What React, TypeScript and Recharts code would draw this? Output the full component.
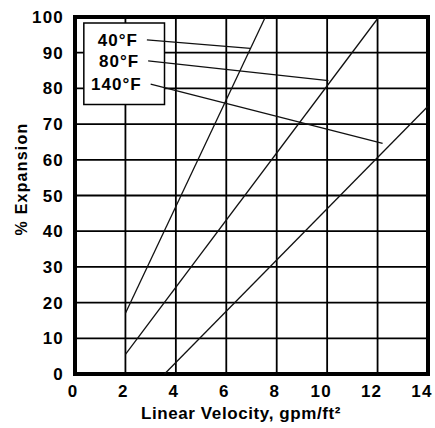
import { LineChart, Line, XAxis, YAxis, CartesianGrid, ReferenceArea, LabelList } from "recharts";

const xTicks = [0, 2, 4, 6, 8, 10, 12, 14];
const yTicks = [0, 10, 20, 30, 40, 50, 60, 70, 80, 90, 100];

// expansion curves
const curve40 = [
  { x: 2, y: 17 },
  { x: 7.55, y: 100 },
];
const curve80 = [
  { x: 2, y: 5.5 },
  { x: 12.05, y: 100 },
];
const curve140 = [
  { x: 3.55, y: 0 },
  { x: 14, y: 75 },
];

// leader lines from the legend labels to their curves
const leader40 = [
  { x: 2.85, y: 93.6, name: "40°F" },
  { x: 6.95, y: 91.2 },
];
const leader80 = [
  { x: 2.9, y: 87.7, name: "80°F" },
  { x: 10.05, y: 82.2 },
];
const leader140 = [
  { x: 3.0, y: 81.2, name: "140°F" },
  { x: 12.2, y: 64.6 },
];

const font = "'Liberation Sans', Arial, sans-serif";

const XTick = (props: any) => {
  const { x, y, payload } = props;
  const shift = String(payload.value).length > 1 ? 6 : 2;
  return (
    <text x={x - shift} y={y + 23} textAnchor="middle" fontFamily={font} fontWeight="bold" fontSize={17} letterSpacing={1.2} fill="#000">
      {payload.value}
    </text>
  );
};

const YTick = (props: any) => {
  const { x, y, payload } = props;
  return (
    <text x={x - 11} y={y + 6} textAnchor="end" fontFamily={font} fontWeight="bold" fontSize={17} letterSpacing={1.2} fill="#000">
      {payload.value}
    </text>
  );
};

const LegendText = (props: any) => {
  const { x, y, value, index } = props;
  if (index !== 0 || !value) return null;
  return (
    <text x={x - 9} y={y + 6} textAnchor="end" fontFamily={font} fontWeight="bold" fontSize={17} letterSpacing={1} fill="#000">
      {value}
    </text>
  );
};

export default function App() {
  const lineStyle = { stroke: "#111", strokeWidth: 1.3, dot: false, isAnimationActive: false };
  return (
    <div style={{ position: "absolute", left: 0, top: 0, background: "#fff" }}>
      <LineChart width={435} height={428} margin={{ top: 17, right: 7, left: 0, bottom: 0 }}>
        <CartesianGrid stroke="#000" strokeWidth={1.8} />
        <XAxis
          dataKey="x"
          type="number"
          domain={[0, 14]}
          ticks={xTicks}
          interval={0}
          height={54}
          axisLine={false}
          tickLine={false}
          tickSize={0}
          tickMargin={0}
          tick={<XTick />}
          label={{
            content: () => (
              <text x={241} y={419} textAnchor="middle" fontFamily={font} fontWeight="bold" fontSize={17} letterSpacing={0.6} fill="#000">
                Linear Velocity, gpm/ft²
              </text>
            ),
          }}
        />
        <YAxis
          type="number"
          domain={[0, 100]}
          ticks={yTicks}
          interval={0}
          width={75}
          axisLine={false}
          tickLine={false}
          tickSize={0}
          tickMargin={0}
          tick={<YTick />}
          label={{
            content: () => (
              <text
                x={27}
                y={179}
                transform="rotate(-90 27 179)"
                textAnchor="middle"
                fontFamily={font}
                fontWeight="bold"
                fontSize={16}
                letterSpacing={1.2}
                fill="#000"
              >
                % Expansion
              </text>
            ),
          }}
        />
        <ReferenceArea x1={0} x2={14} y1={0} y2={100} fill="none" stroke="#000" strokeWidth={4} />
        <ReferenceArea x1={0.35} x2={3.55} y1={75.5} y2={98.3} fill="#fff" fillOpacity={1} stroke="#000" strokeWidth={1.5} />
        <Line data={curve40} dataKey="y" {...lineStyle} />
        <Line data={curve80} dataKey="y" {...lineStyle} />
        <Line data={curve140} dataKey="y" {...lineStyle} />
        <Line data={leader40} dataKey="y" {...lineStyle}>
          <LabelList dataKey="name" content={<LegendText />} />
        </Line>
        <Line data={leader80} dataKey="y" {...lineStyle}>
          <LabelList dataKey="name" content={<LegendText />} />
        </Line>
        <Line data={leader140} dataKey="y" {...lineStyle}>
          <LabelList dataKey="name" content={<LegendText />} />
        </Line>
      </LineChart>
    </div>
  );
}
